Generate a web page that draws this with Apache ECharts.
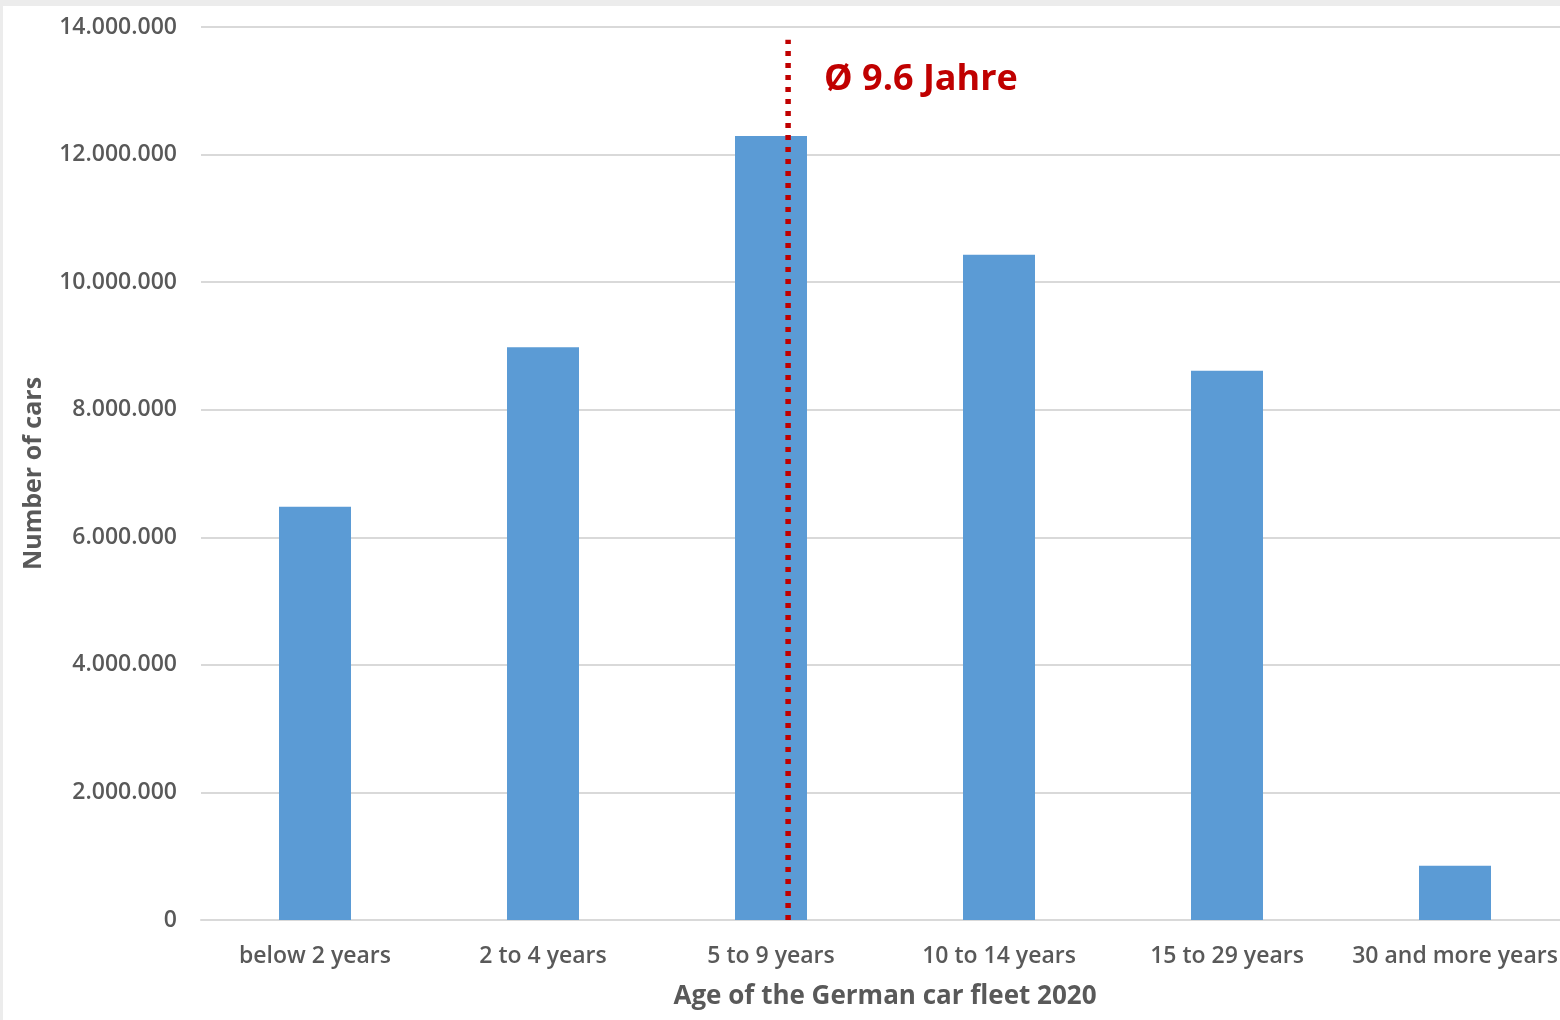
<!DOCTYPE html>
<html>
<head>
<meta charset="utf-8">
<script src="https://cdn.jsdelivr.net/npm/echarts@6/dist/echarts.min.js"></script>
<style>
  html, body { margin: 0; padding: 0; background: #ffffff; }
  #chart { width: 1560px; height: 1020px; }
</style>
</head>
<body>
<div id="chart"></div>
<script>
// Age groups of the German passenger car fleet, 2020
const ageGroups = ['below 2 years', '2 to 4 years', '5 to 9 years', '10 to 14 years', '15 to 29 years', '30 and more years'];
const carCounts = [6480000, 8980000, 12290000, 10430000, 8610000, 850000];

// Average age marker (position on the category scale, 0 = first group)
const avgLinePos = 2.075;
const avgLineTop = 13800000;
const avgLabel = 'Ø 9.6 Jahre';

const yTicks = { min: 0, max: 14000000, interval: 2000000 };

const FONT = 'Open Sans';
const GREY = '#595959';

function fmtDots(v) {
  return String(Math.round(v)).replace(/\B(?=(\d{3})+(?!\d))/g, '.');
}

const chart = echarts.init(document.getElementById('chart'), null, { renderer: 'canvas' });

chart.setOption({
  backgroundColor: '#ffffff',
  animation: false,
  grid: { left: 201, top: 27, width: 1368, height: 893, outerBoundsMode: 'none' },
  graphic: [
    { type: 'rect', left: 0, top: 0, shape: { width: 1560, height: 6 }, style: { fill: '#ececec' }, silent: true },
    { type: 'rect', left: 0, top: 0, shape: { width: 3, height: 1020 }, style: { fill: '#ececec' }, silent: true }
  ],
  xAxis: [
    {
      type: 'category',
      data: ageGroups,
      axisLine: { show: true, lineStyle: { color: '#d9d9d9', width: 2 } },
      axisTick: { show: false },
      axisLabel: { interval: 0, color: GREY, fontFamily: FONT, fontSize: 23, fontWeight: 600, margin: 25 },
      name: 'Age of the German car fleet 2020',
      nameLocation: 'middle',
      nameGap: 64,
      nameTextStyle: { color: GREY, fontFamily: FONT, fontSize: 26, fontWeight: 'bold' }
    },
    {
      type: 'value',
      min: -0.5,
      max: ageGroups.length - 0.5,
      show: false
    }
  ],
  yAxis: {
    type: 'value',
    min: yTicks.min,
    max: yTicks.max,
    interval: yTicks.interval,
    axisLine: { show: false },
    axisTick: { show: false },
    splitLine: { lineStyle: { color: '#d9d9d9', width: 2 } },
    axisLabel: { color: GREY, fontFamily: FONT, fontSize: 23, fontWeight: 600, margin: 24, formatter: fmtDots },
    name: 'Number of cars',
    nameLocation: 'middle',
    nameGap: 155,
    nameRotate: 90,
    nameTextStyle: { color: GREY, fontFamily: FONT, fontSize: 25, fontWeight: 'bold' }
  },
  series: [
    {
      type: 'bar',
      data: carCounts,
      barWidth: 72,
      itemStyle: { color: '#5B9BD5' },
      z: 2
    },
    {
      type: 'line',
      xAxisIndex: 1,
      data: [[avgLinePos, 0], [avgLinePos, avgLineTop]],
      symbol: 'none',
      lineStyle: { color: '#C00000', width: 5.5, type: [5, 7] },
      z: 5,
      endLabel: {
        show: true,
        formatter: avgLabel,
        color: '#C00000',
        fontFamily: FONT,
        fontSize: 36,
        fontWeight: 'bold',
        offset: [28, 40]
      }
    }
  ]
});
</script>
</body>
</html>
